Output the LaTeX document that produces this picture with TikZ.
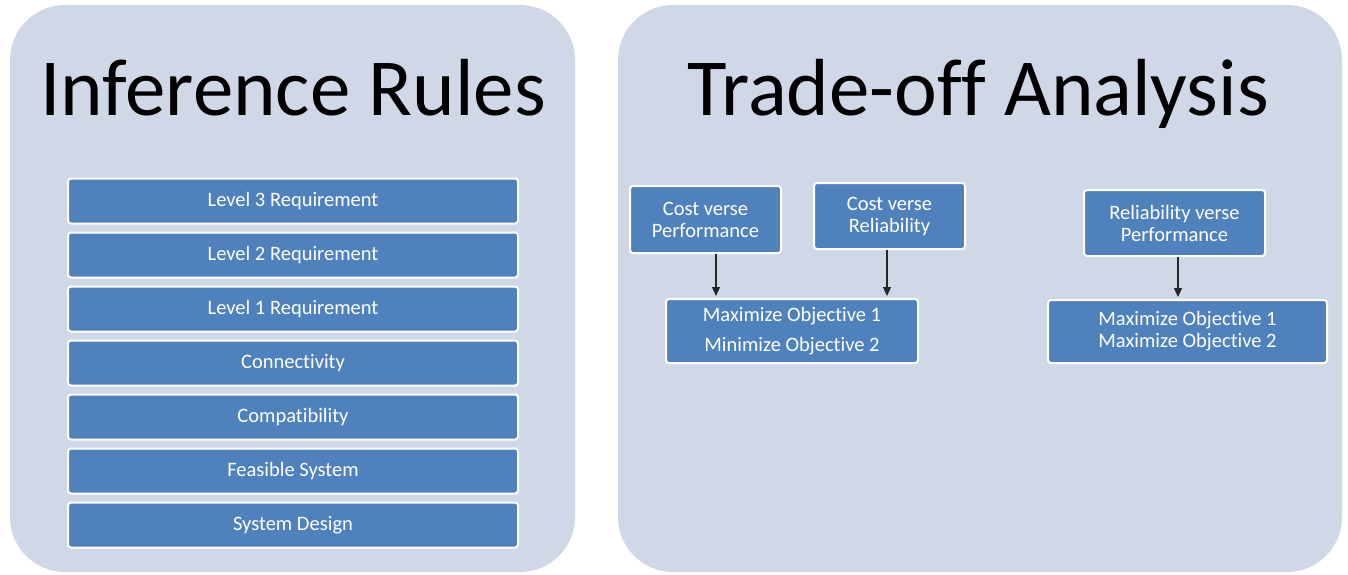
\documentclass[tikz,border=0pt]{standalone}
\usepackage{fontspec}
\setmainfont{Carlito}[Ligatures=NoCommon]
\usetikzlibrary{arrows.meta,calc}
\definecolor{panel}{HTML}{D0D8E8}
\definecolor{boxblue}{HTML}{4F81BD}
\tikzset{
  panelbox/.style={fill=panel, draw=none, rounded corners=55pt},
  title/.style={font=\fontsize{81}{90}\selectfont, anchor=base, inner sep=0pt},
  bluebox/.style={rectangle, rounded corners=3pt, draw=white, line width=2pt, fill=boxblue,
    text=white, align=center, inner sep=0pt, font=\fontsize{20.5}{22}\selectfont},
  arr/.style={-{Triangle[length=9pt,width=8pt]}, line width=1.3pt, draw=black!85, shorten >=2pt},
}
\begin{document}
\begin{tikzpicture}[x=1pt,y=-1pt]
\useasboundingbox (0,0) rectangle (1348,575);
\fill[white] (0,0) rectangle (1348,575);
\path[panelbox] (10,5) rectangle (575,572);
\path[panelbox] (618,5) rectangle (1342,572);
\node[title] (t1) at (293,116) {Inference Rules};
\node[title] (t2) at (978,116) {Trade-off Analysis};
% left stack
\foreach \n/\y/\t in {l3/201/Level 3 Requirement, l2/255/Level 2 Requirement, l1/309/Level 1 Requirement,
  con/363/Connectivity, com/417/Compatibility, fea/471/Feasible System, sd/525/System Design}{
  \node[bluebox, minimum width=450pt, minimum height=45pt] (\n) at (293,\y) {\t};
}
% right side
\node[bluebox, minimum width=151pt, minimum height=67pt] (cp) at (705.5,219.5) {Cost verse\\Performance};
\node[bluebox, minimum width=151pt, minimum height=66pt] (cr) at (889.5,216) {Cost verse\\Reliability};
\node[bluebox, minimum width=252pt, minimum height=64pt] (m1) at (792,331) {Maximize Objective 1\\[8pt]Minimize Objective 2};
\node[bluebox, minimum width=181pt, minimum height=66pt] (rp) at (1174.5,223) {Reliability verse\\Performance};
\node[bluebox, minimum width=279pt, minimum height=63pt] (m2) at (1187.5,331.5) {Maximize Objective 1\\Maximize Objective 2};
\coordinate (a1) at (716,0);
\coordinate (a2) at (887,0);
\coordinate (a3) at (1178,0);
\draw[arr] (cp.south -| a1) -- (m1.north -| a1);
\draw[arr] (cr.south -| a2) -- (m1.north -| a2);
\draw[arr] (rp.south -| a3) -- (m2.north -| a3);
\end{tikzpicture}
\end{document}
